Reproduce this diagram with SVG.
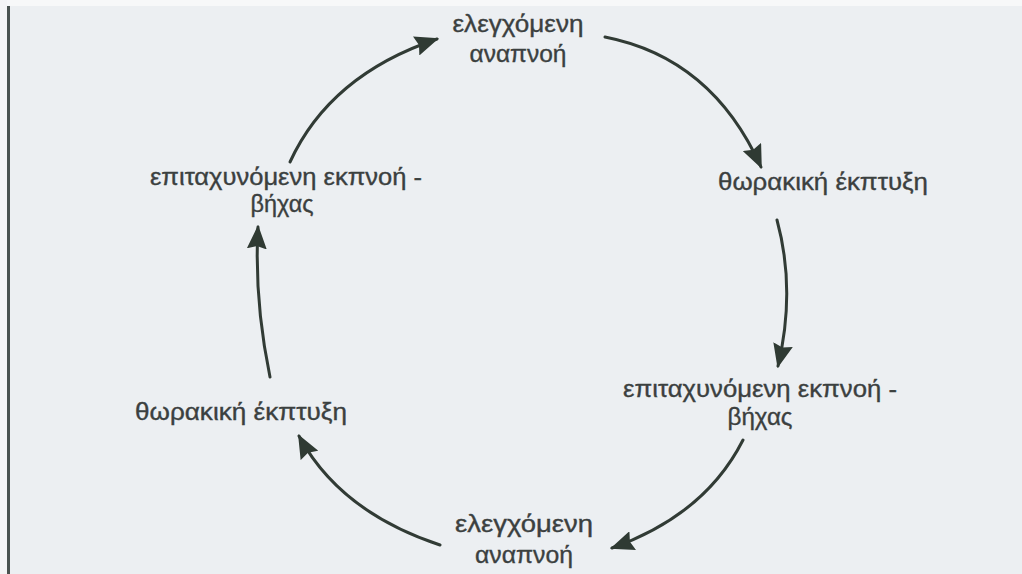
<svg xmlns="http://www.w3.org/2000/svg" width="1022" height="574" viewBox="0 0 1022 574">
<defs>
<style>
.t{font-family:"Liberation Sans","DejaVu Sans",sans-serif;font-size:23px;fill:#3b403f;stroke:#3b403f;stroke-width:0.35;text-anchor:middle}
.c{fill:none;stroke:#313b35;stroke-width:3;stroke-linecap:round;marker-end:url(#ah)}
</style>
<marker id="ah" markerUnits="userSpaceOnUse" markerWidth="24" markerHeight="20" viewBox="0 0 24 20" refX="22" refY="10" orient="auto">
<path d="M0,0 L24,10 L0,20 L3,10 z" fill="#2f3a33"/>
</marker>
</defs>
<rect x="0" y="0" width="1022" height="574" fill="#eceff2"/>
<rect x="0" y="0" width="1022" height="6" fill="#f7f8f9"/>
<rect x="0" y="0" width="7" height="574" fill="#f4f5f6"/>
<rect x="7" y="6" width="3" height="568" fill="#4a5350"/>
<g id="connectors">
<path class="c" d="M290,162 Q330,75 437,39"/>
<path class="c" d="M605,37 Q712,58 761,167"/>
<path class="c" d="M777,220 Q796,290 778,366"/>
<path class="c" d="M743,440 Q705,515 612,548"/>
<path class="c" d="M440,545 Q340,512 299,436"/>
<path class="c" d="M270,377 Q254,300 258,227"/>
</g>
<g id="n1"><text class="t" x="518" y="32" textLength="131" lengthAdjust="spacingAndGlyphs">ελεγχόμενη</text><text class="t" x="518" y="62" textLength="97" lengthAdjust="spacingAndGlyphs">αναπνοή</text></g>
<g id="n2"><text class="t" x="823" y="190" textLength="210" lengthAdjust="spacingAndGlyphs">θωρακική έκπτυξη</text></g>
<g id="n3"><text class="t" x="760" y="397" textLength="274" lengthAdjust="spacingAndGlyphs">επιταχυνόμενη εκπνοή -</text><text class="t" x="760" y="425" textLength="65" lengthAdjust="spacingAndGlyphs">βήχας</text></g>
<g id="n4"><text class="t" x="524" y="532" textLength="138" lengthAdjust="spacingAndGlyphs">ελεγχόμενη</text><text class="t" x="524" y="563" textLength="98" lengthAdjust="spacingAndGlyphs">αναπνοή</text></g>
<g id="n5"><text class="t" x="241" y="420" textLength="212" lengthAdjust="spacingAndGlyphs">θωρακική έκπτυξη</text></g>
<g id="n6"><text class="t" x="286" y="185" textLength="272" lengthAdjust="spacingAndGlyphs">επιταχυνόμενη εκπνοή -</text><text class="t" x="282" y="212" textLength="63" lengthAdjust="spacingAndGlyphs">βήχας</text></g>
</svg>
